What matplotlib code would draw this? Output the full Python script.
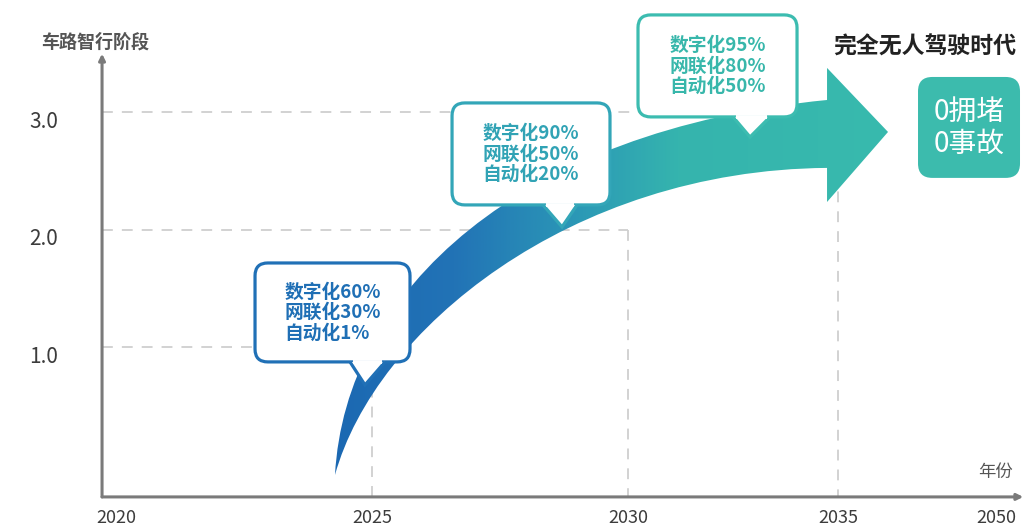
import numpy as np
import matplotlib
matplotlib.use("Agg")
import matplotlib.pyplot as plt
from matplotlib.path import Path
from matplotlib.patches import PathPatch, FancyBboxPatch, Polygon
from matplotlib.colors import LinearSegmentedColormap

plt.rcParams['font.family'] = ['Noto Sans CJK SC', 'DejaVu Sans']

# data
years = ["2020", "2025", "2030", "2035", "2050"]
year_pos = [0, 5, 10, 14.1, 17.2]          # uneven axis: 2050 is squeezed in
stage_ticks = [1.0, 2.0, 3.0]
stage_years = [5, 10, 14.1]                 # 2025, 2030, 2035
digital = [60, 90, 95]
network = [30, 50, 80]
auto = [1, 20, 50]
goal_title = "完全无人驾驶时代"
goal_text = "0拥堵\n0事故"

fig = plt.figure(figsize=(10.24, 5.29), dpi=100)
ax = fig.add_axes([0, 0, 1, 1])
ax.set_xlim(-2.266, 17.734)
ax.set_ylim(-0.545, 3.957)
ax.axis('off')
asp = 51.2 / 117.5   # px per x-unit / px per y-unit

# axes with arrow heads
axcol = '#7a7a7a'
ax.annotate('', xy=(-0.273, 3.50), xytext=(-0.273, -0.272),
            arrowprops=dict(arrowstyle='-|>', color=axcol, lw=2.2, mutation_scale=9, shrinkA=0, shrinkB=0))
ax.annotate('', xy=(17.72, -0.272), xytext=(-0.273, -0.272),
            arrowprops=dict(arrowstyle='-|>', color=axcol, lw=2.2, mutation_scale=9, shrinkA=0, shrinkB=0))

# dashed guides to each milestone
for xs, lv in zip(stage_years, stage_ticks):
    ax.plot([-0.273, xs], [lv, lv], color='#cfcfcf', lw=1.3, dashes=(6, 5), zorder=1)
    ax.plot([xs, xs], [lv, -0.272], color='#cfcfcf', lw=1.3, dashes=(6, 5), zorder=1)

for lv in stage_ticks:
    ax.text(-1.42, lv - 0.08, f"{lv:.1f}", fontsize=15, color='#3c3c3c', ha='center', va='center')
for lab, xp in zip(years, year_pos):
    ax.text(xp, -0.45, lab, fontsize=13, color='#3c3c3c', ha='center', va='center')

ax.text(-0.41, 3.60, "车路智行阶段", fontsize=13, color='#555555', ha='center', va='center', fontweight='bold')
ax.text(17.17, -0.06, "年份", fontsize=12.5, color='#555555', ha='center', va='center')

# big curved arrow
verts = [(4.277, -0.085), (4.473, 1.489), (7.891, 2.851), (13.887, 3.106),
         (13.887, 3.379), (15.078, 2.834), (13.887, 2.238), (13.887, 2.528),
         (8.867, 2.511), (5.059, 1.149), (4.277, -0.085), (4.277, -0.085)]
codes = [Path.MOVETO, Path.CURVE4, Path.CURVE4, Path.CURVE4,
         Path.LINETO, Path.LINETO, Path.LINETO, Path.LINETO,
         Path.CURVE4, Path.CURVE4, Path.CURVE4, Path.CLOSEPOLY]
arrow = PathPatch(Path(verts, codes), facecolor='none', edgecolor='none', zorder=3)
ax.add_patch(arrow)
cmap = LinearSegmentedColormap.from_list('ar', [(0, '#1b68b2'), (0.22, '#2273b6'), (0.45, '#2c9ab6'),
                                                 (0.62, '#35b4ae'), (1, '#38baad')])
grad = np.linspace(0, 1, 256).reshape(1, -1)
im = ax.imshow(grad, cmap=cmap, extent=(4.2, 15.1, -0.1, 3.4), aspect='auto', zorder=3, interpolation='bicubic')
im.set_clip_path(arrow)

# callouts
boxes = [
    dict(x0=2.715, x1=5.742, y0=0.877, y1=1.719, base=(4.570, 5.254), tip=(4.863, 0.681),
         edge='#2070b6', txt='#1f6fb5'),
    dict(x0=6.563, x1=9.648, y0=2.213, y1=3.081, base=(8.340, 9.004), tip=(8.711, 2.026),
         edge='#33a6b8', txt='#31a3b5'),
    dict(x0=10.195, x1=13.301, y0=2.962, y1=3.830, base=(12.051, 12.773), tip=(12.383, 2.791),
         edge='#3cbcb0', txt='#38b7ab'),
]
for b, d, n, a in zip(boxes, digital, network, auto):
    r = 0.25
    bx = FancyBboxPatch((b['x0'], b['y0']), b['x1'] - b['x0'], b['y1'] - b['y0'],
                        boxstyle=f"round,pad=0,rounding_size={r}", mutation_aspect=asp,
                        facecolor='white', edgecolor=b['edge'], lw=2.3, zorder=5)
    ax.add_patch(bx)
    tri = Polygon([(b['base'][0], b['y0']), b['tip'], (b['base'][1], b['y0'])], closed=False,
                  facecolor='white', edgecolor=b['edge'], lw=2.3, zorder=6, joinstyle='miter')
    ax.add_patch(tri)
    ax.plot([b['base'][0] + 0.05, b['base'][1] - 0.05], [b['y0'], b['y0']], color='white', lw=2.8,
            zorder=7, solid_capstyle='butt')
    txt = f"数字化{d}%\n网联化{n}%\n自动化{a}%"
    ax.text((b['x0'] + b['x1']) / 2, (b['y0'] + b['y1']) / 2, txt, fontsize=13.5, fontweight='bold',
            color=b['txt'], ha='center', va='center', multialignment='left', linespacing=1.1, zorder=8)

# goal box
ax.text(15.80, 3.557, goal_title, fontsize=16.5, fontweight='bold', color='#222222', ha='center', va='center')
gb = FancyBboxPatch((15.664, 2.443), 1.992, 0.859, boxstyle="round,pad=0,rounding_size=0.28",
                    mutation_aspect=asp, facecolor='#3cbbad', edgecolor='none', zorder=5)
ax.add_patch(gb)
ax.text(16.66, 2.868, goal_text, fontsize=20, color='white', ha='center', va='center',
        linespacing=1.1, zorder=6)

fig.savefig("out.png", dpi=100)
